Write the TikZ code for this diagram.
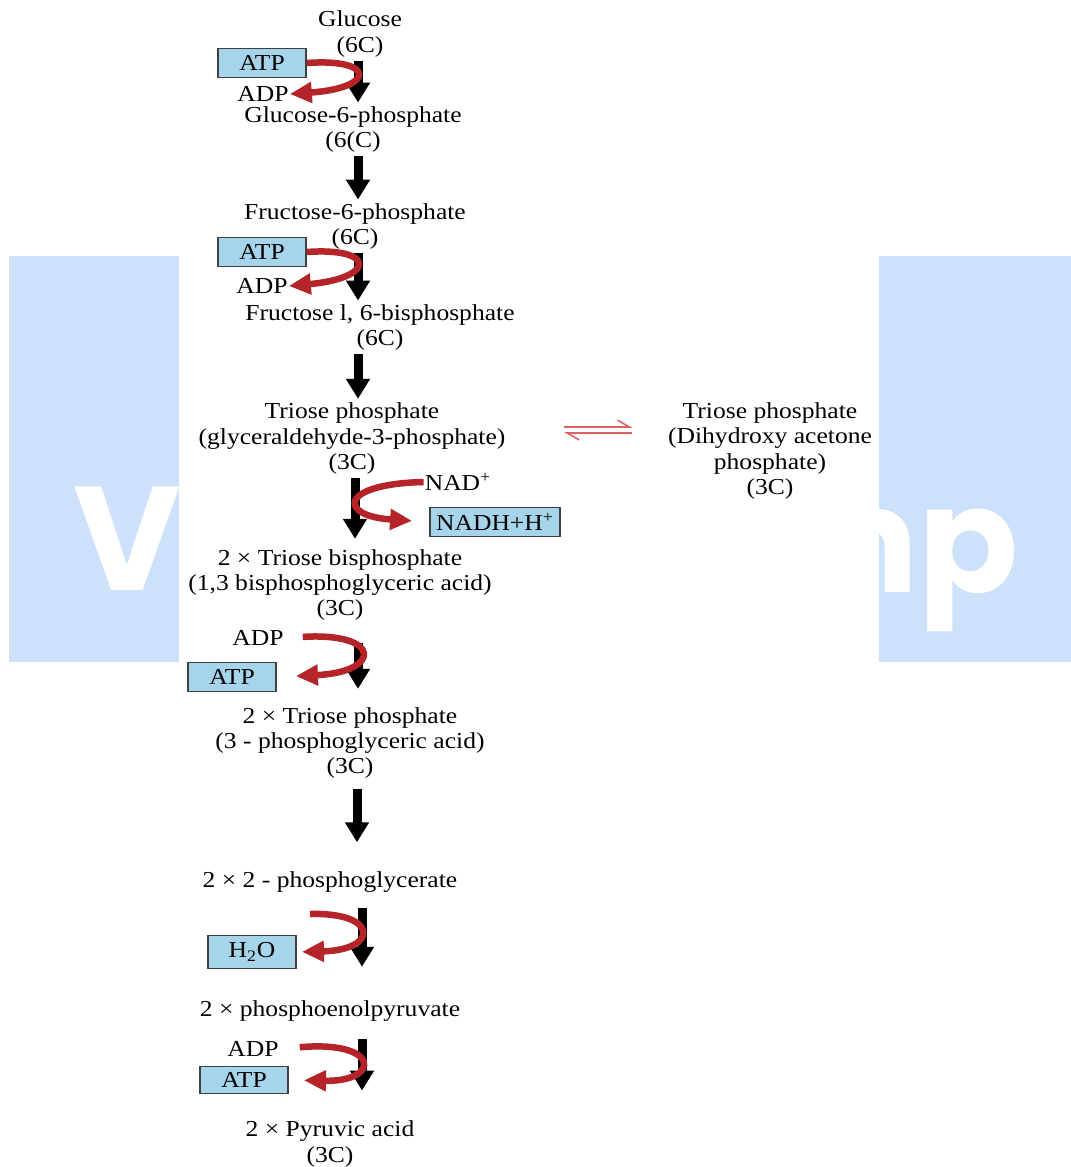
\documentclass[tikz,border=0pt]{standalone}
\usepackage{fontspec}
\setmainfont{Liberation Serif}[FakeStretch=1.12]
\newfontfamily\markfont{Poppins}
\usetikzlibrary{arrows.meta}

\definecolor{boxblue}{RGB}{166,212,234}
\definecolor{bandblue}{RGB}{205,225,250}
\definecolor{hookred}{RGB}{180,36,40}
\definecolor{eqred}{RGB}{226,96,100}

\begin{document}
\begin{tikzpicture}[
    x=0.02cm, y=-0.02cm,
    font=\fontsize{13}{14.5}\selectfont,
    metab/.style={align=center, inner sep=2pt},
    cofactor/.style={inner sep=0.5pt},
    carrier/.style={rectangle, draw=black!75, line width=1.1pt, fill=boxblue, minimum width=1.76cm, minimum height=0.58cm, inner sep=1pt},
    mainarrow/.style={-{Triangle[width=0.46cm, length=0.4cm]}, line width=0.18cm, black},
    hookarrow/.style={-{Triangle[width=0.4cm, length=0.44cm]}, line width=0.13cm, hookred},
    eqarrow/.style={-{Straight Barb[harpoon, width=0.28cm, length=0.24cm]}, line width=0.9pt, eqred},
    wmletter/.style={text=white, inner sep=0pt, font=\markfont\bfseries\fontsize{84}{84}\selectfont}
]
\path[use as bounding box, fill=white] (0,0) rectangle (1071,1167);

% Watermark bands
\fill[bandblue] (9,256) rectangle (179,662);
\fill[bandblue] (879,256) rectangle (1071,662);
\begin{scope}
\clip (9,256) rectangle (179,662);
\node[wmletter, anchor=base] (wmV) at (127,590) {V};
\end{scope}
\begin{scope}
\clip (879,256) rectangle (1071,662);
\node[wmletter, anchor=base east] (wmMP) at (1019,592) {mp};
\end{scope}

% Main chain
\node[metab] (glc) at (360,34) {Glucose\\(6C)};
\node[metab] (g6p) at (353,129.5) {Glucose-6-phosphate\\(6(C)};
\node[metab] (f6p) at (355,226.5) {Fructose-6-phosphate\\(6C)};
\node[metab] (fbp) at (380,327.5) {Fructose l, 6-bisphosphate\\(6C)};
\node[metab] (gap) at (352,438.5) {Triose phosphate\\(glyceraldehyde-3-phosphate)\\(3C)};
\node[metab] (dhap) at (770,451) {Triose phosphate\\(Dihydroxy acetone\\phosphate)\\(3C)};
\node[metab] (bpg) at (340,585) {2 × Triose bisphosphate\\(1,3 bisphosphoglyceric acid)\\(3C)};
\node[metab] (pga3) at (350,743) {2 × Triose phosphate\\(3 - phosphoglyceric acid)\\(3C)};
\node[metab] (pga2) at (330,882) {2 × 2 - phosphoglycerate};
\node[metab] (pep) at (330,1011) {2 × phosphoenolpyruvate};
\node[metab] (pyr) at (330,1144) {2 × Pyruvic acid\\(3C)};

% Side products
\node[carrier] (atpA) at (262,63) {ATP};
\node[cofactor] (adpA) at (263,94) {ADP};
\node[carrier] (atpB) at (262,252) {ATP};
\node[cofactor] (adpB) at (262,286) {ADP};
\node[cofactor] (nad) at (458,482) {NAD\textsuperscript{+}};
\node[carrier, minimum width=2.6cm] (nadh) at (495,522) {NADH+H\textsuperscript{+}};
\node[cofactor] (adpC) at (258,638) {ADP};
\node[carrier] (atpC) at (232,677) {ATP};
\node[carrier, minimum height=0.66cm] (water) at (252,952) {H\textsubscript{2}O};
\node[cofactor] (adpD) at (253,1049) {ADP};
\node[carrier, minimum height=0.54cm] (atpD) at (244,1080) {ATP};
\coordinate (wIn) at (310,914);

% Arrow columns
\coordinate (colA) at (358,0);
\coordinate (colB) at (355,0);
\coordinate (colC) at (357,0);
\coordinate (colD) at (362,0);

% Arrows
\draw[mainarrow] (glc.south -| colA) -- (g6p.north -| colA);
\draw[mainarrow] (g6p.south -| colA) -- (f6p.north -| colA);
\draw[mainarrow] (f6p.south -| colA) -- (fbp.north -| colA);
\draw[mainarrow] (fbp.south -| colA) -- (gap.north -| colA);
\draw[mainarrow, shorten >=0.13cm] (gap.south -| colB) -- (bpg.north -| colB);
\draw[mainarrow, shorten <=0.36cm, shorten >=0.29cm] (bpg.south -| colA) -- (pga3.north -| colA);
\draw[mainarrow, shorten <=0.12cm, shorten >=0.51cm] (pga3.south -| colC) -- (pga2.north -| colC);
\draw[mainarrow, shorten <=0.24cm, shorten >=0.6cm] (pga2.south -| colD) -- (pep.north -| colD);
\draw[mainarrow, shorten <=0.28cm, shorten >=0.53cm] (pep.south -| colD) -- (pyr.north -| colD);

\draw[hookarrow] (atpA.east) .. controls (376,58) and (376,88) .. (adpA.east);
\draw[hookarrow] (atpB.east) .. controls (376,247) and (376,278) .. (adpB.east);
\draw[hookarrow, shorten >=0.34cm] (nad.west) .. controls (338,484) and (338,516) .. (nadh.west);
\draw[hookarrow, shorten <=0.36cm, shorten >=0.38cm] (adpC.east) .. controls (382,632) and (382,672) .. (atpC.east);
\draw[hookarrow, shorten >=0.1cm] (wIn) .. controls (379,912) and (379,950) .. (water.east);
\draw[hookarrow, shorten <=0.4cm, shorten >=0.3cm] (adpD.east) .. controls (381,1040) and (381,1082) .. (atpD.east);

% Equilibrium
\coordinate (eqTop) at ([yshift=0.23cm]gap.east);
\coordinate (eqBot) at ([yshift=0.11cm]gap.east);
\draw[eqarrow, shorten <=1.1cm, shorten >=0.64cm] (eqTop) -- (eqTop -| dhap.west);
\draw[eqarrow, shorten <=0.64cm, shorten >=1.1cm] (eqBot -| dhap.west) -- (eqBot);

\end{tikzpicture}
\end{document}
